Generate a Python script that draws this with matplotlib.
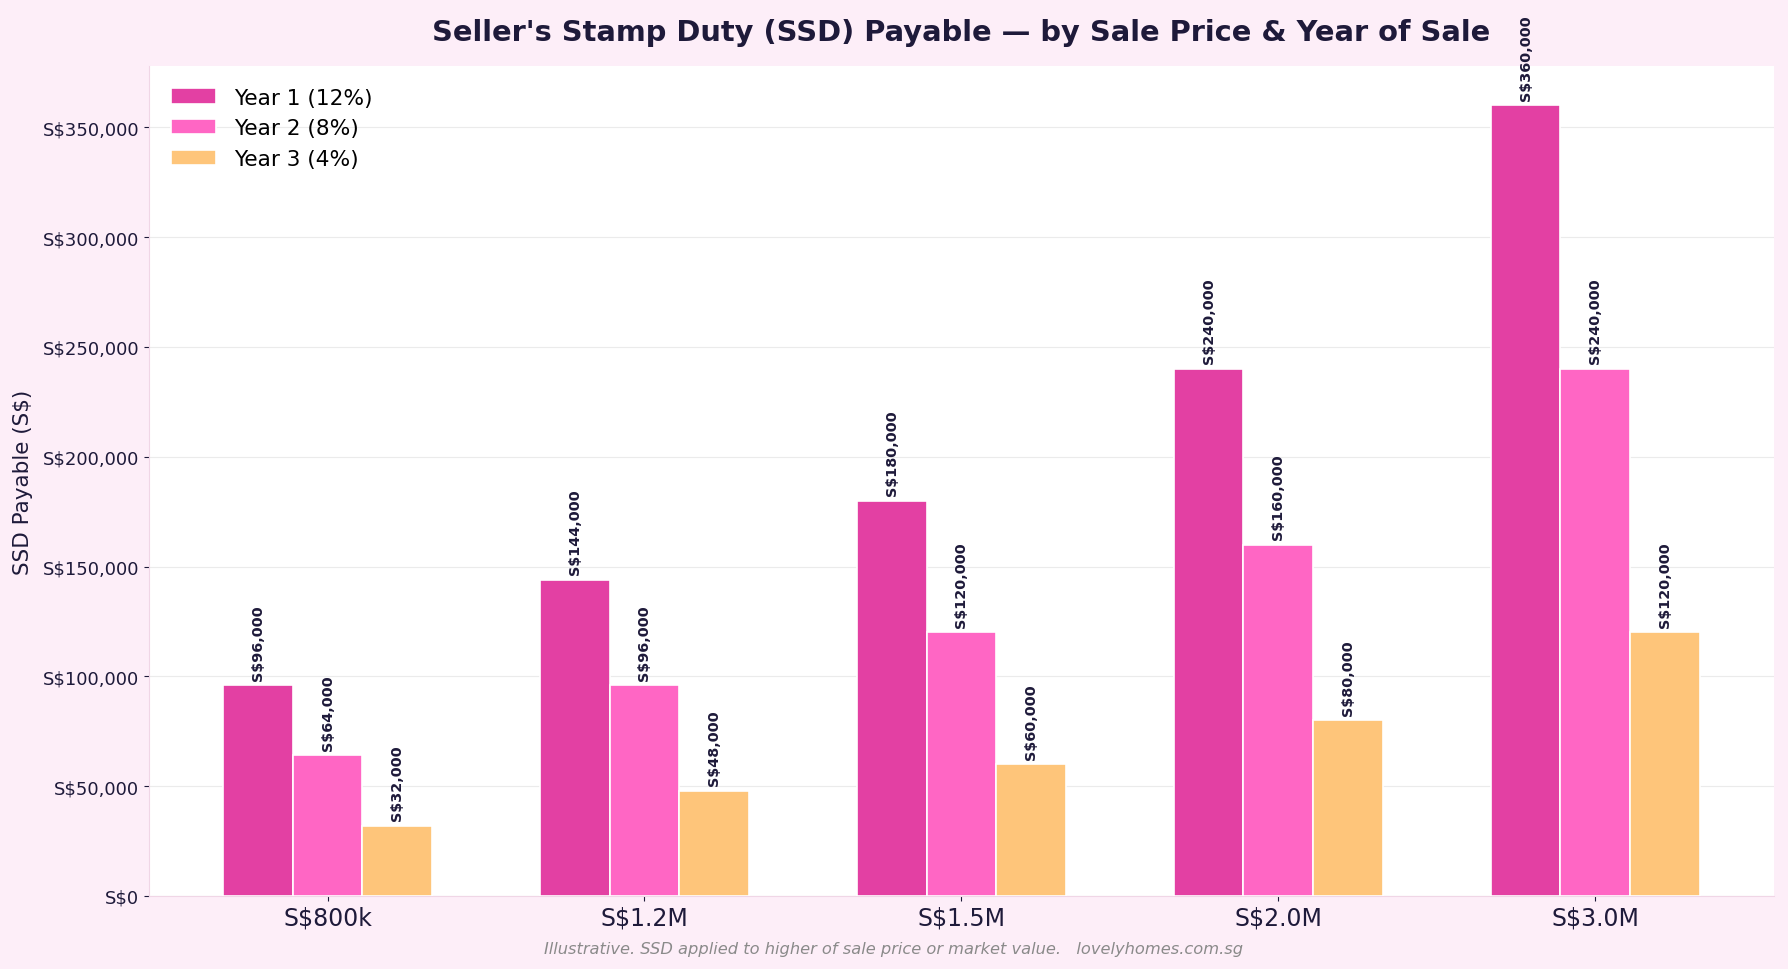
import matplotlib
matplotlib.use('Agg')
import matplotlib.pyplot as plt
import numpy as np

prices = ['S$800k', 'S$1.2M', 'S$1.5M', 'S$2.0M', 'S$3.0M']
year1 = [96000, 144000, 180000, 240000, 360000]
year2 = [64000, 96000, 120000, 160000, 240000]
year3 = [32000, 48000, 60000, 80000, 120000]
series_labels = ['Year 1 (12%)', 'Year 2 (8%)', 'Year 3 (4%)']
colors = ['#e340a3', '#ff66c4', '#fec57a']

BG = '#fdeef8'
DARK = '#1e1a3a'


def plot_ssd():
    fig = plt.figure(figsize=(17.88, 9.7), dpi=100, facecolor=BG)
    ax = fig.add_axes([0.0834, 0.0753, 0.9086, 0.8557])
    ax.set_facecolor('white')

    x = np.arange(len(prices))
    w = 0.22
    for i, (vals, lab, c) in enumerate(zip([year1, year2, year3], series_labels, colors)):
        bars = ax.bar(x + (i - 1) * w, vals, w, label=lab, color=c,
                      edgecolor='white', linewidth=1.2, zorder=3)
        for b, v in zip(bars, vals):
            ax.text(b.get_x() + b.get_width() / 2, v + 2500, f'S${v:,.0f}',
                    rotation=90, ha='center', va='bottom', fontsize=10.4,
                    fontweight='bold', color=DARK, zorder=4)

    ax.set_ylim(0, 378000)
    ax.set_xticks(x)
    ax.set_xticklabels(prices, fontsize=17, color=DARK)
    ax.set_yticks(np.arange(0, 350001, 50000))
    ax.yaxis.set_major_formatter(matplotlib.ticker.FuncFormatter(lambda v, p: f'S${v:,.0f}'))
    ax.tick_params(axis='y', labelsize=13, colors=DARK)
    ax.tick_params(axis='x', colors=DARK)
    ax.set_ylabel('SSD Payable (S$)', fontsize=15.5, color=DARK, labelpad=7)
    ax.grid(axis='y', color='#ebebeb', linewidth=0.8, zorder=0)
    ax.set_axisbelow(True)
    for s in ['top', 'right']:
        ax.spines[s].set_visible(False)
    for s in ['left', 'bottom']:
        ax.spines[s].set_color('#f0d6e6')

    ax.legend(loc='upper left', fontsize=15.6, frameon=False, handlelength=2.1,
              borderaxespad=0.6)

    ax.set_title("Seller's Stamp Duty (SSD) Payable — by Sale Price & Year of Sale",
                 fontsize=20.8, fontweight='bold', color=DARK, pad=19)
    fig.text(0.5, 0.017, 'Illustrative. SSD applied to higher of sale price or market value.   lovelyhomes.com.sg',
             ha='center', fontsize=11.7, style='italic', color='#8a8a8a')

    fig.savefig('out.png', dpi=100, facecolor=BG)


if __name__ == '__main__':
    plot_ssd()
